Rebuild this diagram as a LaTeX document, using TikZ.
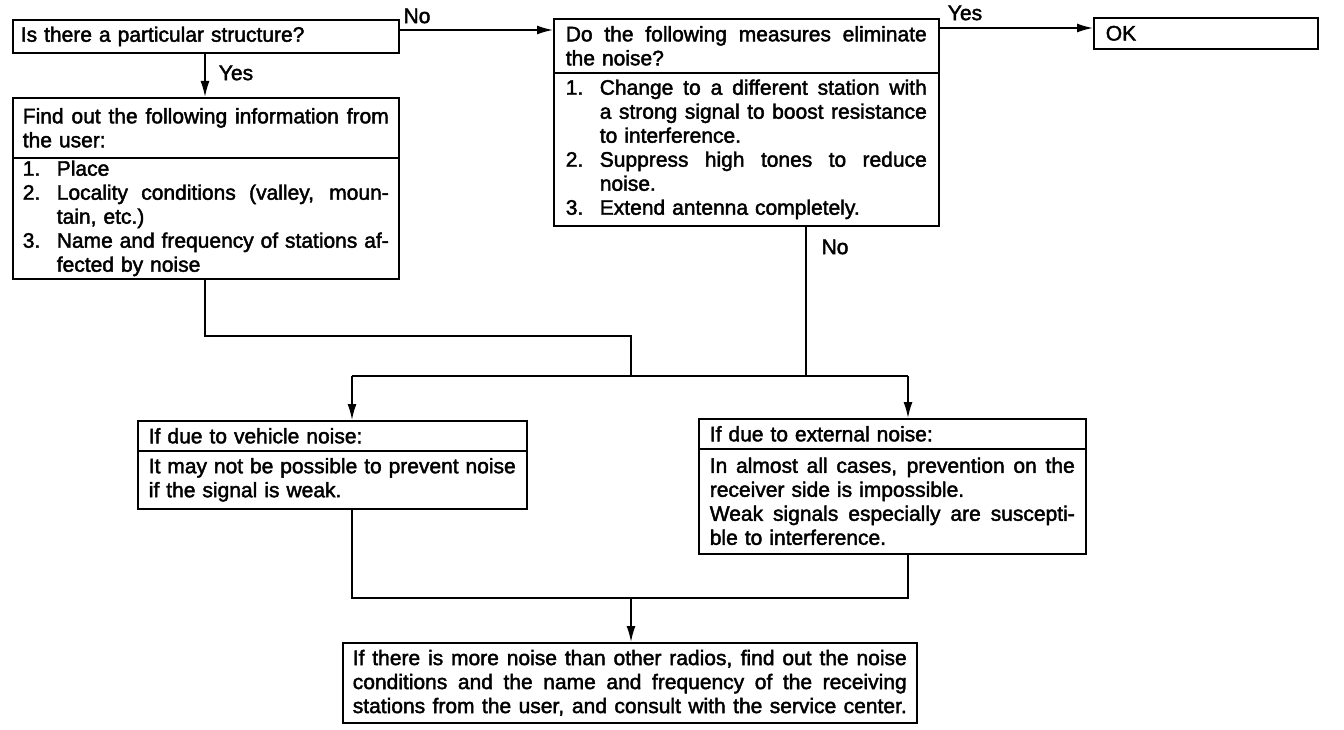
\documentclass[tikz,border=0pt]{standalone}
\usepackage{fontspec}
\setmainfont{Liberation Sans}[FakeBold=2]
\usetikzlibrary{arrows.meta}
\newcommand\jl[1]{\hbox to\linewidth{\spaceskip=\fontdimen2\font plus 1fil minus 0.1em\relax #1}\par}
\newcommand\lastl[1]{\hbox to\linewidth{#1\hfil}\par}
\newcommand\itemnum[1]{\makebox[34pt][l]{#1}}
\newcommand\contind{\hspace*{34pt}}
\begin{document}
\begin{tikzpicture}[x=1pt,y=-1pt,
  box/.style={draw,line width=1.6pt,anchor=north west,inner ysep=0pt,font=\fontsize{21}{24}\selectfont},
  lbl/.style={font=\fontsize{21}{24}\selectfont,inner sep=0pt},
  arr/.style={line width=1.6pt,-{Latex[length=16pt,width=9pt]}},
  ln/.style={line width=1.6pt}]
\useasboundingbox (0,0) rectangle (1344,730);
% boxes
\node[box,inner xsep=8pt,text width=370pt,minimum height=33pt] (b1) at (12,19)
  {\lastl{Is there a particular structure?}};
\node[box,inner xsep=12pt,text width=200pt,minimum height=31pt] (ok) at (1093,17)
  {\lastl{OK}};
\node[box,inner xsep=12pt,text width=361pt,minimum height=54pt] (b2h) at (553,18)
  {\jl{Do the following measures eliminate}\lastl{the noise?}};
\node[box,inner xsep=12pt,text width=361pt,minimum height=153pt] (b2b) at (553,72)
  {\jl{\itemnum{1.}Change to a different station with}%
   \jl{\contind a strong signal to boost resistance}%
   \lastl{\contind to interference.}%
   \jl{\itemnum{2.}Suppress high tones to reduce}%
   \lastl{\contind noise.}%
   \lastl{\itemnum{3.}Extend antenna completely.}};
\node[box,inner xsep=10pt,text width=366pt,minimum height=60pt] (b3h) at (12,97)
  {\jl{Find out the following information from}\lastl{the user:}};
\node[box,inner xsep=10pt,text width=366pt,minimum height=121pt] (b3b) at (12,157)
  {\lastl{\itemnum{1.}Place}%
   \jl{\itemnum{2.}Locality conditions (valley, moun-}%
   \lastl{\contind tain, etc.)}%
   \jl{\itemnum{3.}Name and frequency of stations af-}%
   \lastl{\contind fected by noise}};
\node[box,inner xsep=11pt,text width=367pt,minimum height=30pt] (b4h) at (137,420)
  {\lastl{If due to vehicle noise:}};
\node[box,inner xsep=11pt,text width=367pt,minimum height=58pt] (b4b) at (137,450)
  {\jl{It may not be possible to prevent noise}\lastl{if the signal is weak.}};
\node[box,inner xsep=11pt,text width=365pt,minimum height=30pt] (b5h) at (698,418)
  {\lastl{If due to external noise:}};
\node[box,inner xsep=11pt,text width=365pt,minimum height=105pt] (b5b) at (698,448)
  {\jl{In almost all cases, prevention on the}%
   \lastl{receiver side is impossible.}%
   \jl{Weak signals especially are suscepti-}%
   \lastl{ble to interference.}};
\node[box,inner xsep=10pt,text width=554pt,minimum height=80pt] (b6) at (342,642)
  {\jl{If there is more noise than other radios, find out the noise}%
   \jl{conditions and the name and frequency of the receiving}%
   \jl{stations from the user, and consult with the service center.}};
% helper coordinates
\coordinate (y30) at (0,30);
\coordinate (y28) at (0,28);
\coordinate (x205) at (205,0);
\coordinate (x806) at (806,0);
\coordinate (m1) at (631,336);
\coordinate (j1) at (631,376);
\coordinate (jn) at (806,376);
\coordinate (jl) at (352,376);
\coordinate (jr) at (908,376);
\coordinate (bl) at (352,598);
\coordinate (br) at (908,598);
\coordinate (bm) at (631,598);
% connectors
\draw[arr] (b1.east |- y30) -- (b2h.west |- y30);
\node[lbl] (no1) at (417,16) {No};
\draw[arr] (b2h.east |- y28) -- (ok.west |- y28);
\node[lbl] (yes1) at (965,13) {Yes};
\draw[arr] (b1.south -| x205) -- (b3h.north -| x205);
\node[lbl] (yes2) at (236,73) {Yes};
\draw[ln] (b3b.south -| x205) |- (m1) -- (j1);
\draw[ln] (b2b.south -| x806) -- (jn);
\node[lbl] (no2) at (835,247) {No};
\draw[ln] (jl) -- (jr);
\draw[arr] (jl) -- (b4h.north -| jl);
\draw[arr] (jr) -- (b5h.north -| jr);
\draw[ln] (b4b.south -| bl) -- (bl) -- (br) -- (b5b.south -| br);
\draw[arr] (bm) -- (b6.north -| bm);
\end{tikzpicture}
\end{document}
